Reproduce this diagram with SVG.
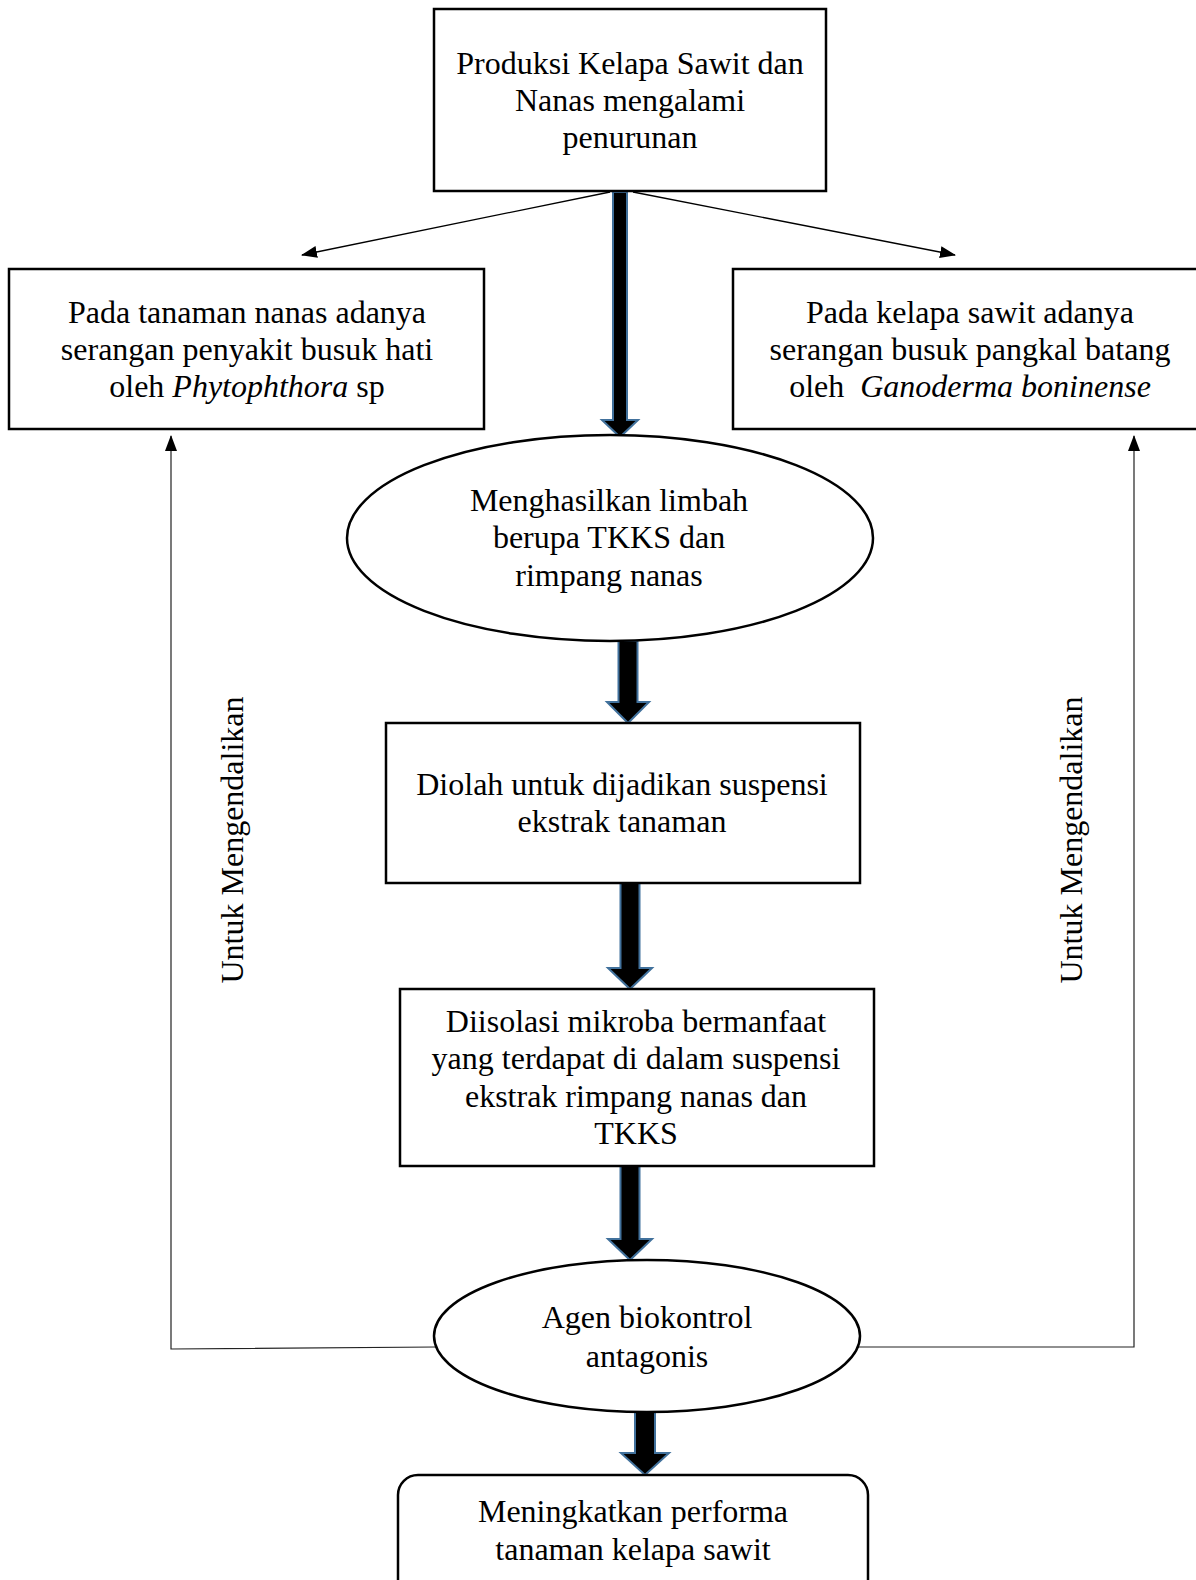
<svg xmlns="http://www.w3.org/2000/svg" width="1196" height="1580" viewBox="0 0 1196 1580">
<style>
.box{fill:#fff;stroke:#000;stroke-width:2.5}
.t{font-family:"Liberation Serif","Times New Roman",serif;font-size:32px;fill:#000;text-anchor:middle}
.blk{fill:#000;stroke:#41719C;stroke-width:2;stroke-linejoin:miter}
.thin{fill:none;stroke:#000;stroke-width:1.3}
.fb{fill:none;stroke:#222;stroke-width:1.2}
</style>
<defs>
<marker id="ah" markerWidth="16" markerHeight="12" refX="15" refY="6" orient="auto" markerUnits="userSpaceOnUse">
<path d="M0,0 L16,6 L0,12 Z" fill="#000"/>
</marker>
</defs>
<rect width="1196" height="1580" fill="#fff"/>

<g id="connectors">
<line class="thin" x1="610" y1="192" x2="302" y2="255" marker-end="url(#ah)"/>
<line class="thin" x1="633" y1="192" x2="955" y2="255" marker-end="url(#ah)"/>
<polygon class="blk" points="613,192 627,192 627,420 638,420 620,437 602,420 613,420"/>
<polygon class="blk" points="618.5,641 637.5,641 637.5,702 649,702 628,723 607,702 618.5,702"/>
<polygon class="blk" points="620.5,883 639.5,883 639.5,968 652,968 630,989 608,968 620.5,968"/>
<polygon class="blk" points="620.5,1166 639.5,1166 639.5,1239 652,1239 630,1260 608,1239 620.5,1239"/>
<polygon class="blk" points="635,1412 655,1412 655,1453 669,1453 645,1475 621,1453 635,1453"/>
<polyline class="fb" points="436,1347 171,1349 171,436" marker-end="url(#ah)"/>
<polyline class="fb" points="858,1347 1134,1347 1134,436" marker-end="url(#ah)"/>
<text class="t" transform="translate(243,840) rotate(-90)">Untuk Mengendalikan</text>
<text class="t" transform="translate(1082,840) rotate(-90)">Untuk Mengendalikan</text>
</g>

<g id="n1">
<rect class="box" x="434" y="9" width="392" height="182"/>
<text class="t" x="630" y="74">Produksi Kelapa Sawit dan</text>
<text class="t" x="630" y="111">Nanas mengalami</text>
<text class="t" x="630" y="148">penurunan</text>
</g>

<g id="n2">
<rect class="box" x="9" y="269" width="475" height="160"/>
<text class="t" x="247" y="323">Pada tanaman nanas adanya</text>
<text class="t" x="247" y="360">serangan penyakit busuk hati</text>
<text class="t" x="247" y="397">oleh <tspan font-style="italic">Phytophthora</tspan> sp</text>
</g>

<g id="n3">
<rect class="box" x="733" y="269" width="480" height="160"/>
<text class="t" x="970" y="323">Pada kelapa sawit adanya</text>
<text class="t" x="970" y="360">serangan busuk pangkal batang</text>
<text class="t" x="970" y="397">oleh&#160; <tspan font-style="italic">Ganoderma boninense</tspan></text>
</g>

<g id="n4">
<ellipse class="box" cx="610" cy="538" rx="263" ry="103"/>
<text class="t" x="609" y="511">Menghasilkan limbah</text>
<text class="t" x="609" y="548">berupa TKKS dan</text>
<text class="t" x="609" y="586">rimpang nanas</text>
</g>

<g id="n5">
<rect class="box" x="386" y="723" width="474" height="160"/>
<text class="t" x="622" y="795">Diolah untuk dijadikan suspensi</text>
<text class="t" x="622" y="832">ekstrak tanaman</text>
</g>

<g id="n6">
<rect class="box" x="400" y="989" width="474" height="177"/>
<text class="t" x="636" y="1032">Diisolasi mikroba bermanfaat</text>
<text class="t" x="636" y="1069">yang terdapat di dalam suspensi</text>
<text class="t" x="636" y="1107">ekstrak rimpang nanas dan</text>
<text class="t" x="636" y="1144">TKKS</text>
</g>

<g id="n7">
<ellipse class="box" cx="647" cy="1336" rx="213" ry="76"/>
<text class="t" x="647" y="1328">Agen biokontrol</text>
<text class="t" x="647" y="1367">antagonis</text>
</g>

<g id="n8">
<rect class="box" x="398" y="1475" width="470" height="130" rx="20" ry="20"/>
<text class="t" x="633" y="1522">Meningkatkan performa</text>
<text class="t" x="633" y="1560">tanaman kelapa sawit</text>
</g>
</svg>
